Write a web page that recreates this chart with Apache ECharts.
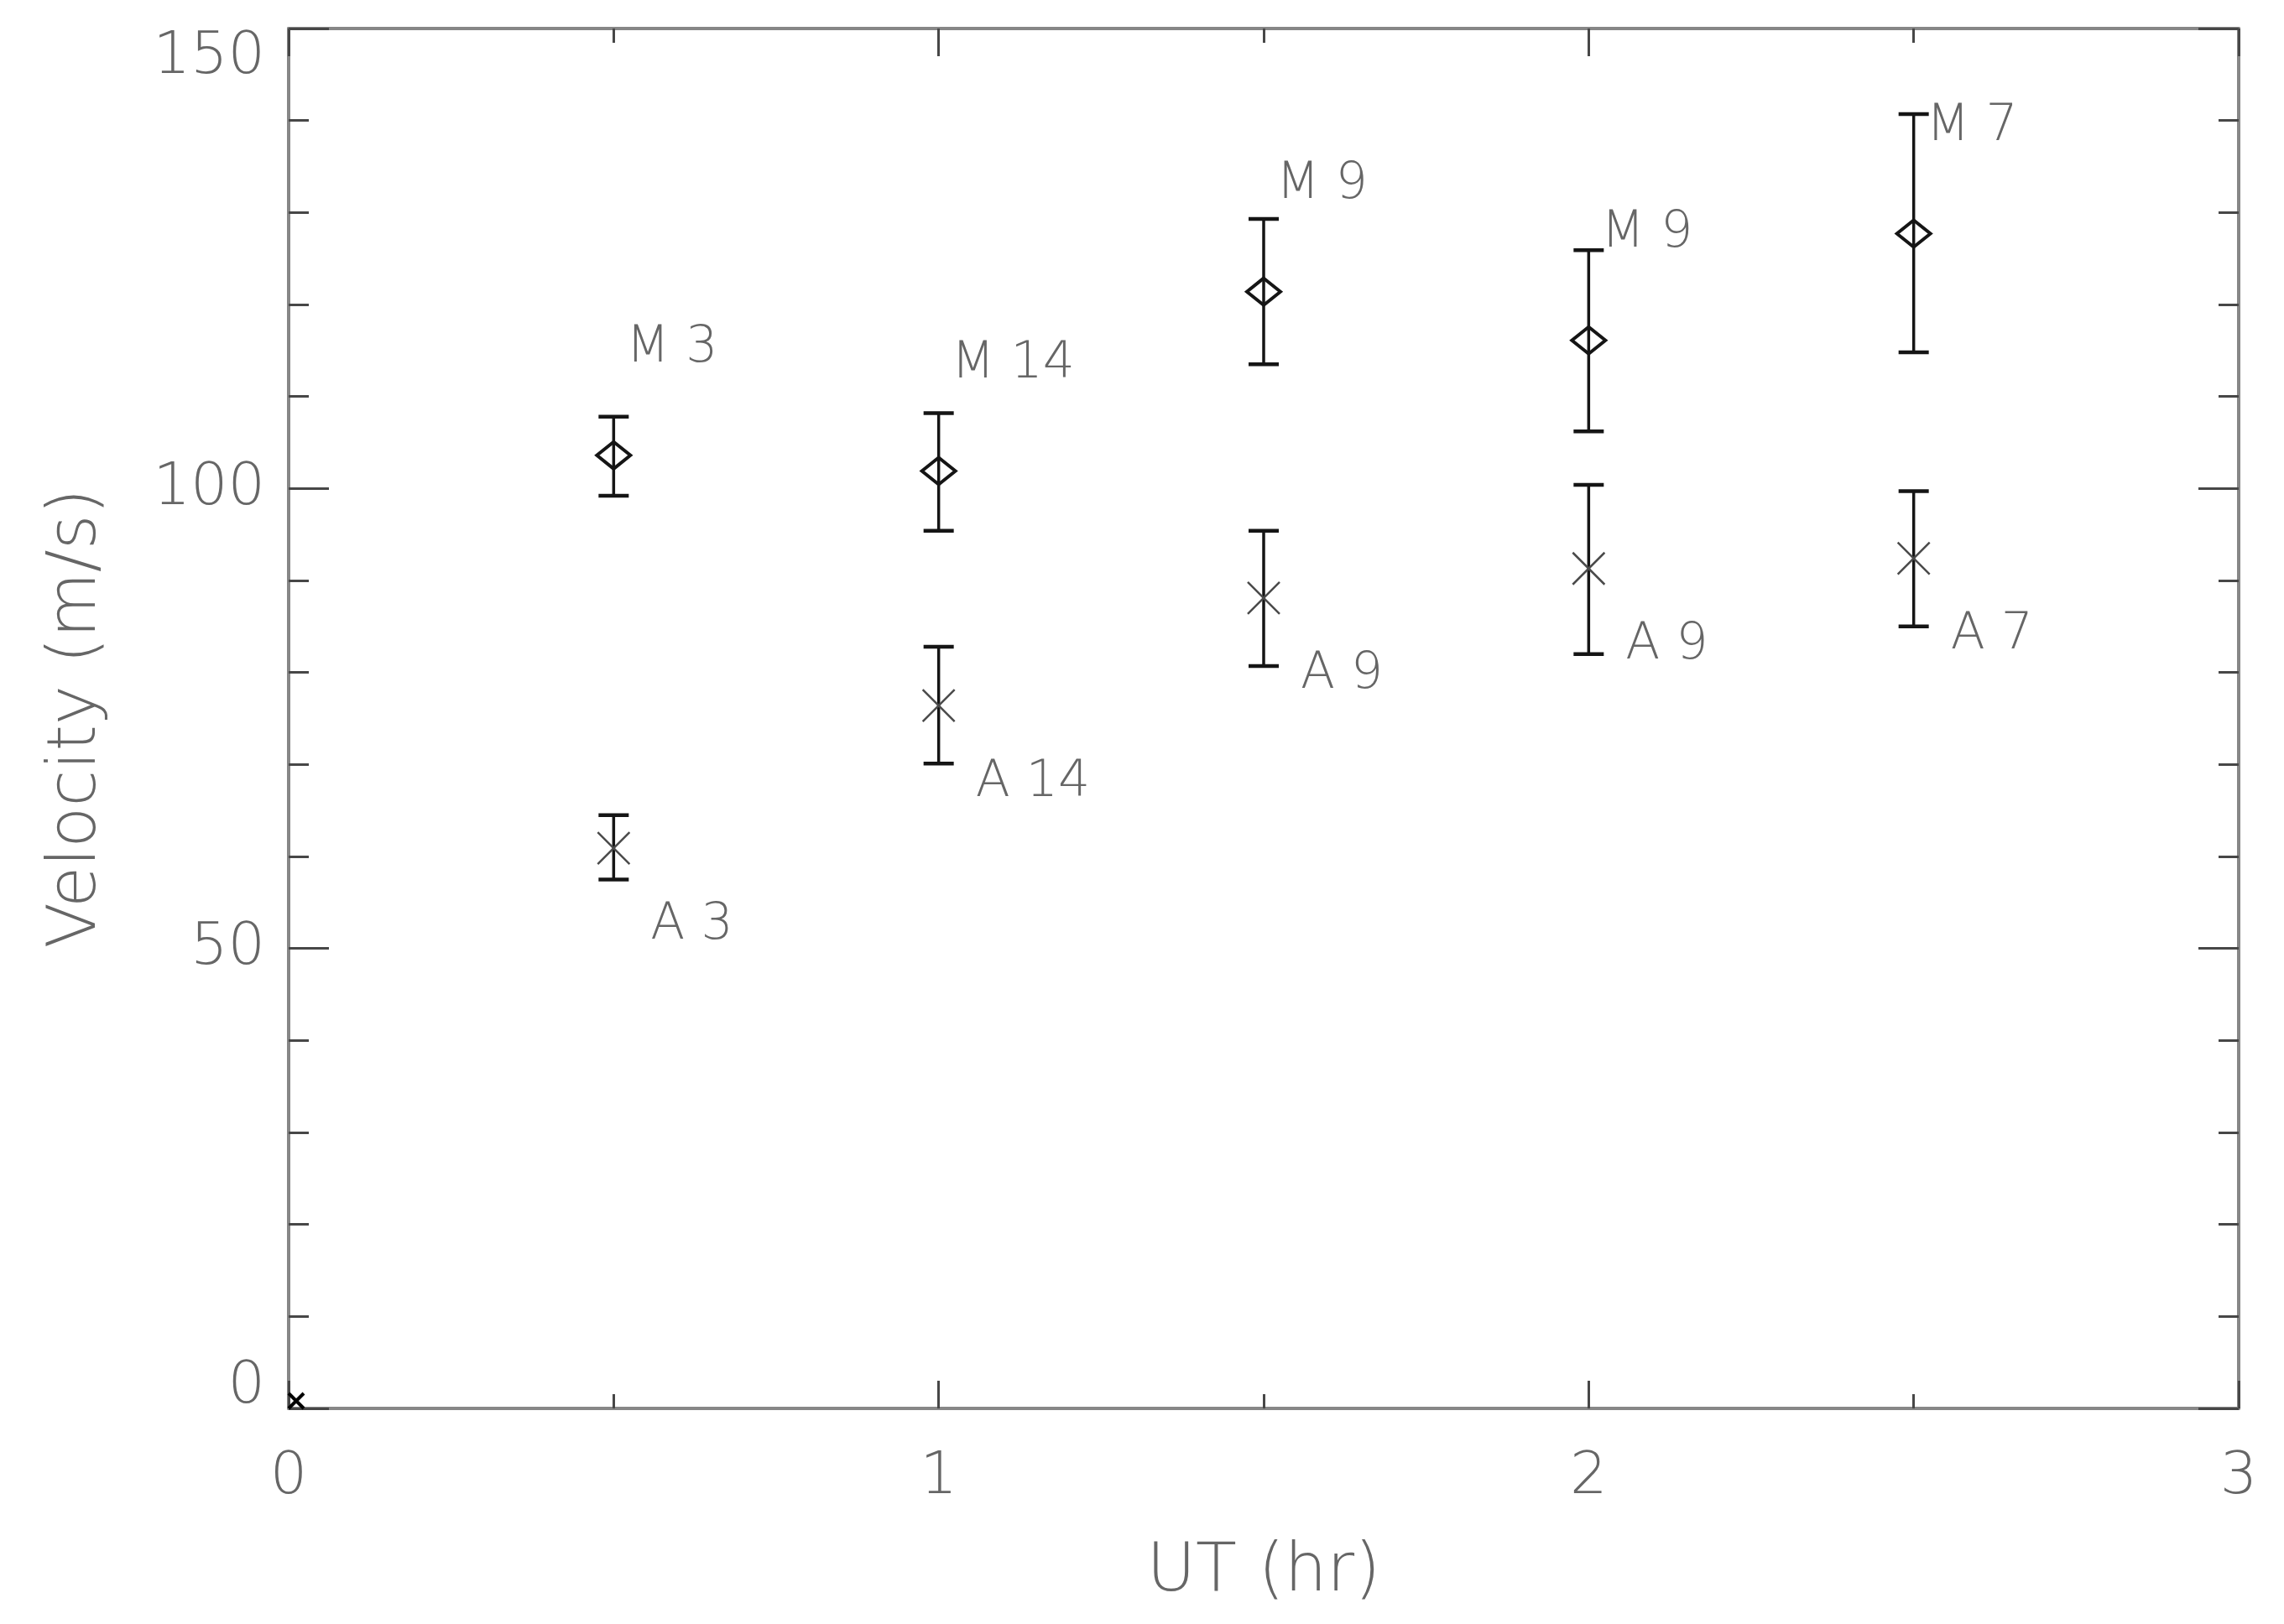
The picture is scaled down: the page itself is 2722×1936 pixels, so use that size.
<!DOCTYPE html>
<html><head><meta charset="utf-8">
<script src="https://cdn.jsdelivr.net/npm/echarts@6/dist/echarts.min.js"></script>
<style>html,body{margin:0;padding:0;background:#fff}#c{width:2722px;height:1936px}</style>
</head><body><div id="c"></div>
<script>
// ---- data ----
const utHours   = [0.5, 1.0, 1.5, 2.0, 2.5];
const mVelocity = [103.6, 101.9, 121.4, 116.1, 127.7];
const mUpper    = [107.8, 108.2, 129.3, 125.9, 140.7];
const mLower    = [99.2, 95.4, 113.5, 106.2, 114.8];
const mCounts   = [3, 14, 9, 9, 7];
const aVelocity = [60.9, 76.4, 88.1, 91.3, 92.4];
const aUpper    = [64.5, 82.8, 95.4, 100.4, 99.7];
const aLower    = [57.5, 70.1, 80.7, 82.0, 85.0];
const aCounts   = [3, 14, 9, 9, 7];
const originPoint = [[0, 0]];
const xRange = [0, 3];
const yRange = [0, 150];
const xTitle = 'UT (hr)';
const yTitle = 'Velocity (m/s)';

const FONT = 'DejaVu Sans';
const FW = 200;
const TXT = '#666666';
const FRAME = '#878787';
const TICK = '#474747';

function errSeries(lo, hi) {
  return {
    type: 'custom', xAxisIndex: 0, yAxisIndex: 0, z: 3,
    data: utHours.map((x, i) => [x, lo[i], hi[i]]),
    renderItem: function (params, api) {
      const x = api.value(0);
      const pLo = api.coord([x, api.value(1)]);
      const pHi = api.coord([x, api.value(2)]);
      const hw = 18;
      const st = { stroke: '#151515', lineWidth: 3.5 };
      return { type: 'group', children: [
        { type: 'line', shape: { x1: pLo[0], y1: pLo[1], x2: pHi[0], y2: pHi[1] }, style: st },
        { type: 'line', shape: { x1: pLo[0] - hw, y1: pLo[1], x2: pLo[0] + hw, y2: pLo[1] }, style: { stroke: '#151515', lineWidth: 4.5 } },
        { type: 'line', shape: { x1: pHi[0] - hw, y1: pHi[1], x2: pHi[0] + hw, y2: pHi[1] }, style: { stroke: '#151515', lineWidth: 4.5 } }
      ]};
    }
  };
}

function axisCommon(extra) {
  return Object.assign({
    type: 'value',
    axisLine: { show: true, onZero: false, lineStyle: { color: FRAME, width: 4 } },
    splitLine: { show: false },
    minorSplitLine: { show: false }
  }, extra);
}

const xTick = { show: true, inside: true, length: 33, lineStyle: { color: TICK, width: 3 } };
const xMinor = { show: true, splitNumber: 2, length: 17, lineStyle: { color: TICK, width: 3 } };
const yTick = { show: true, inside: true, length: 48, lineStyle: { color: TICK, width: 3 } };
const yMinor = { show: true, splitNumber: 5, length: 24, lineStyle: { color: TICK, width: 3 } };

const option = {
  animation: false,
  backgroundColor: '#ffffff',
  grid: { left: 344, right: 54, top: 34, bottom: 257, containLabel: false },
  xAxis: [
    axisCommon({
      min: xRange[0], max: xRange[1], interval: 1, position: 'bottom',
      axisTick: xTick, minorTick: xMinor,
      axisLabel: { show: true, margin: 48, fontSize: 70, color: TXT, fontFamily: FONT, fontWeight: FW },
      name: xTitle, nameLocation: 'middle', nameGap: 156,
      nameTextStyle: { fontSize: 80, color: TXT, fontFamily: FONT, fontWeight: FW }
    }),
    axisCommon({
      min: xRange[0], max: xRange[1], interval: 1, position: 'top',
      axisTick: xTick, minorTick: xMinor, axisLabel: { show: false }
    })
  ],
  yAxis: [
    axisCommon({
      min: yRange[0], max: yRange[1], interval: 50, position: 'left',
      axisTick: yTick, minorTick: yMinor,
      axisLabel: { show: true, margin: 28, fontSize: 70, color: TXT, fontFamily: FONT, fontWeight: FW,
        verticalAlignMinLabel: 'bottom', verticalAlignMaxLabel: 'top',
        formatter: v => (v === yRange[0] ? '{z|' + v + '}' : String(v)),
        rich: { z: { fontSize: 70, lineHeight: 50, color: TXT, fontFamily: FONT, fontWeight: FW } } },
      name: yTitle, nameLocation: 'middle', nameGap: 212, nameRotate: 90,
      nameTextStyle: { fontSize: 80, color: TXT, fontFamily: FONT, fontWeight: FW }
    }),
    axisCommon({
      min: yRange[0], max: yRange[1], interval: 50, position: 'right',
      axisTick: yTick, minorTick: yMinor, axisLabel: { show: false }
    })
  ],
  series: [
    errSeries(mLower, mUpper),
    errSeries(aLower, aUpper),
    {
      type: 'scatter', xAxisIndex: 0, yAxisIndex: 0, z: 4,
      data: utHours.map((x, i) => [x, mVelocity[i]]),
      symbol: 'diamond', symbolSize: [40, 32],
      itemStyle: { color: 'rgba(0,0,0,0)', borderColor: '#151515', borderWidth: 4, opacity: 1 },
      label: {
        show: true, position: 'inside', align: 'left', verticalAlign: 'middle',
        offset: [15, -127], fontSize: 60, color: TXT, fontFamily: FONT, fontWeight: FW,
        formatter: p => 'M ' + mCounts[p.dataIndex]
      }
    },
    {
      type: 'scatter', xAxisIndex: 0, yAxisIndex: 0, z: 4,
      data: utHours.map((x, i) => [x, aVelocity[i]]),
      symbol: 'path://M0,0L10,10M10,0L0,10', symbolSize: [38, 38],
      itemStyle: { color: 'rgba(0,0,0,0)', borderColor: '#4a4a4a', borderWidth: 2.5, opacity: 1 },
      label: {
        show: true, position: 'inside', align: 'left', verticalAlign: 'middle',
        offset: [44, 92], fontSize: 60, color: TXT, fontFamily: FONT, fontWeight: FW,
        formatter: p => 'A ' + aCounts[p.dataIndex]
      }
    },
    {
      type: 'scatter', xAxisIndex: 0, yAxisIndex: 0, z: 5,
      data: originPoint,
      symbol: 'path://M0,0L10,10M10,0L0,10', symbolSize: [18, 18], symbolOffset: [9, -9],
      itemStyle: { color: 'rgba(0,0,0,0)', borderColor: '#000', borderWidth: 4, opacity: 1 }
    }
  ]
};

const chart = echarts.init(document.getElementById('c'), null, { renderer: 'canvas' });
chart.setOption(option);
</script>
</body></html>
